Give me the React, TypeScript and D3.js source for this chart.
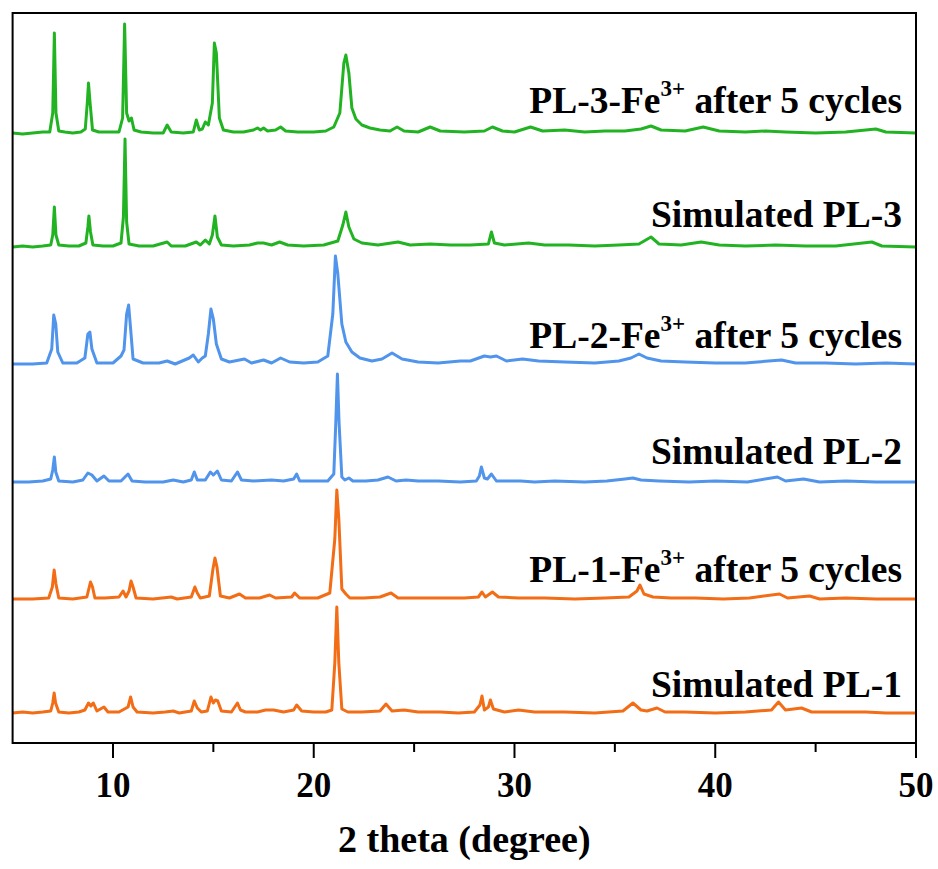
import React from "react";
import * as d3 from "d3";

// 2θ / intensity vertices (intensity in plot px above each trace's baseline)
const pl3Fe: [number, number][] = [
  [5, 0], [5.5, -1], [6, 0], [6.5, 1], [6.85, 1], [7.0, 20], [7.08, 100], [7.16, 20], [7.3, 2], [7.6, 1], [8.0, 0],
  [8.4, 1], [8.62, 4], [8.72, 30], [8.78, 50], [8.86, 30], [8.98, 3], [9.3, 1], [9.8, 1], [10.3, 1], [10.48, 15],
  [10.58, 109], [10.68, 20], [10.8, 12], [10.92, 15], [11.05, 3], [11.4, 1], [12, 0], [12.5, 0], [12.7, 8], [12.9, 1],
  [13.5, 0], [14.0, 1], [14.15, 13], [14.3, 3], [14.45, 4], [14.6, 11], [14.75, 8], [14.95, 30], [15.05, 90],
  [15.15, 80], [15.3, 15], [15.5, 3], [16, 1], [16.5, 1], [17.0, 3], [17.2, 5], [17.35, 3], [17.5, 5], [17.7, 2],
  [18.1, 3], [18.35, 6], [18.6, 2], [19.2, 1], [20, 1], [20.6, 2], [21.0, 6], [21.3, 20], [21.5, 70], [21.6, 78],
  [21.75, 60], [21.9, 25], [22.1, 14], [22.4, 8], [22.8, 5], [23.3, 3], [23.8, 2], [24.15, 6], [24.5, 2], [25.2, 1],
  [25.8, 6], [26.3, 2], [27.5, 1], [28.5, 2], [28.9, 6], [29.4, 2], [30.0, 1], [30.8, 6], [31.4, 2], [32.5, 3],
  [33.5, 1], [34.5, 2], [35.5, 2], [36.3, 4], [36.8, 7], [37.3, 3], [38.5, 2], [39.4, 6], [40.2, 2], [41.5, 1],
  [42.5, 2], [43.5, 1], [45, 0], [46.5, 1], [48.0, 4], [48.5, 1], [50, 0],
];

const simPl3: [number, number][] = [
  [5, 0], [5.5, 1], [6, 0], [6.5, 1], [6.9, 2], [7.0, 12], [7.08, 40], [7.16, 12], [7.3, 2], [7.8, 1], [8.3, 1],
  [8.65, 4], [8.75, 20], [8.8, 31], [8.88, 15], [9.0, 2], [9.5, 1], [10, 1], [10.4, 4], [10.52, 30], [10.6, 108],
  [10.68, 25], [10.8, 3], [11.3, 1], [12, 1], [12.7, 5], [12.9, 1], [13.6, 1], [14.15, 5], [14.35, 2], [14.6, 7],
  [14.8, 3], [14.95, 12], [15.08, 31], [15.2, 10], [15.4, 2], [16, 1], [16.8, 2], [17.2, 4], [17.5, 4], [17.9, 2],
  [18.3, 5], [18.7, 2], [19.5, 1], [20.5, 2], [21.2, 6], [21.45, 22], [21.6, 35], [21.75, 20], [22.0, 8], [22.4, 4],
  [23.2, 2], [24.2, 5], [24.8, 2], [25.8, 3], [26.8, 2], [27.8, 2], [28.7, 3], [28.85, 15], [29.0, 4], [29.5, 2],
  [30.7, 4], [31.5, 2], [32.7, 2], [34, 1], [35.2, 2], [36.2, 3], [36.8, 10], [37.2, 3], [38.3, 2], [39.3, 5],
  [40.2, 2], [41.5, 1], [43, 2], [44.5, 1], [46, 1], [47.8, 5], [48.3, 1], [50, 0],
];

const pl2Fe: [number, number][] = [
  [5, 0], [6, 0], [6.7, 1], [6.95, 15], [7.05, 49], [7.15, 40], [7.25, 12], [7.5, 1], [8.2, 1], [8.6, 6], [8.75, 30],
  [8.85, 32], [8.95, 15], [9.2, 1], [10, 1], [10.4, 8], [10.55, 14], [10.68, 50], [10.78, 59], [10.88, 35], [11.0, 5],
  [11.5, 1], [12.3, 1], [12.7, 3], [13.1, 0], [13.8, 6], [14.0, 9], [14.25, 2], [14.45, 6], [14.6, 8], [14.75, 30],
  [14.88, 55], [15.0, 45], [15.15, 20], [15.4, 5], [15.8, 2], [16.55, 5], [16.9, 1], [17.5, 4], [17.9, 1], [18.35, 6],
  [18.8, 2], [19.5, 1], [20.2, 2], [20.7, 8], [20.95, 50], [21.08, 108], [21.2, 90], [21.4, 40], [21.6, 22],
  [21.9, 12], [22.3, 6], [22.9, 3], [23.4, 5], [23.9, 11], [24.4, 5], [25.2, 2], [26.2, 1], [27.3, 3], [27.8, 3],
  [28.5, 8], [28.8, 7], [29.1, 8], [29.6, 3], [30.4, 5], [31.2, 3], [32.5, 2], [34, 1], [35.2, 3], [35.8, 6],
  [36.2, 10], [36.6, 6], [37.3, 3], [38.5, 2], [40, 1], [41.5, 1], [43.3, 4], [44, 1], [45.5, 1], [47, 0],
  [48.5, 1], [50, 0],
];

const simPl2: [number, number][] = [
  [5, 0], [5.8, 0], [6.5, 1], [6.9, 3], [7.0, 12], [7.08, 25], [7.15, 10], [7.3, 1], [8, 0], [8.5, 2], [8.75, 9],
  [8.95, 7], [9.2, 1], [9.55, 6], [9.8, 1], [10.4, 1], [10.75, 8], [10.95, 1], [11.6, 0], [12.5, 0], [13.0, 2],
  [13.5, 0], [13.9, 2], [14.05, 10], [14.2, 2], [14.6, 2], [14.85, 10], [15.0, 7], [15.2, 11], [15.4, 2], [15.9, 1],
  [16.2, 10], [16.4, 2], [17, 1], [17.9, 2], [18.5, 1], [19.0, 3], [19.15, 8], [19.3, 1], [20.0, 1], [20.7, 1],
  [21.0, 8], [21.1, 60], [21.18, 108], [21.26, 60], [21.4, 5], [21.55, 2], [21.75, 4], [21.95, 1], [22.6, 1],
  [23.2, 2], [23.7, 5], [24.1, 1], [24.6, 2], [25.2, 1], [26.2, 1], [27.3, 0], [28.1, 1], [28.25, 6], [28.35, 15],
  [28.5, 4], [28.65, 3], [28.85, 8], [29.1, 1], [30.3, 1], [31, 0], [32, 1], [33.5, 0], [34.6, 1], [35.5, 3],
  [35.9, 4], [36.3, 2], [37.2, 1], [38.7, 0], [40, 1], [41.6, 0], [43.1, 5], [43.5, 1], [44.4, 3], [45.2, 0],
  [46.5, 1], [48, 0], [50, 0],
];

const pl1Fe: [number, number][] = [
  [5, 0], [6, 0], [6.8, 1], [6.98, 12], [7.07, 29], [7.16, 15], [7.3, 1], [8, 0], [8.7, 2], [8.88, 17], [8.98, 12],
  [9.1, 1], [9.6, 1], [10.3, 2], [10.5, 8], [10.65, 2], [10.8, 8], [10.9, 18], [11.0, 12], [11.15, 1], [12, 0],
  [12.9, 2], [13.2, 0], [13.9, 2], [14.08, 12], [14.2, 6], [14.35, 1], [14.8, 3], [14.98, 30], [15.08, 41],
  [15.18, 32], [15.35, 3], [15.8, 1], [16.3, 5], [16.6, 1], [17.3, 1], [17.8, 4], [18.1, 1], [18.9, 2], [19.05, 6],
  [19.3, 1], [20.2, 1], [20.8, 6], [21.05, 60], [21.15, 109], [21.25, 80], [21.4, 10], [21.6, 5], [21.8, 1],
  [22.5, 1], [23.3, 2], [23.85, 6], [24.2, 1], [25.5, 1], [26.5, 1], [27.5, 1], [28.2, 2], [28.38, 7], [28.55, 2],
  [28.9, 7], [29.2, 2], [30.2, 1], [31.5, 1], [33, 0], [34.5, 1], [35.7, 2], [36.1, 8], [36.25, 14], [36.45, 5],
  [36.9, 2], [37.8, 1], [39, 1], [40.4, 0], [41.7, 1], [43.2, 5], [43.6, 1], [44.7, 3], [45.2, 0], [46.5, 1],
  [48, 0], [50, 0],
];

const simPl1: [number, number][] = [
  [5, 0], [5.5, 1], [6, 0], [6.5, 1], [6.9, 2], [7.0, 10], [7.07, 20], [7.14, 10], [7.3, 1], [7.8, 0], [8.3, 1],
  [8.6, 3], [8.78, 10], [8.9, 7], [9.02, 10], [9.2, 2], [9.55, 6], [9.75, 1], [10.3, 1], [10.75, 6], [10.88, 16],
  [11.0, 6], [11.2, 1], [12, 0], [12.6, 1], [13.0, 2], [13.3, 0], [13.9, 2], [14.05, 12], [14.2, 5], [14.4, 1],
  [14.7, 2], [14.88, 16], [15.0, 10], [15.1, 13], [15.22, 12], [15.4, 2], [15.9, 1], [16.2, 10], [16.35, 3],
  [16.6, 1], [17.2, 1], [17.6, 3], [18.0, 3], [18.5, 1], [19.0, 3], [19.15, 8], [19.4, 2], [20, 1], [20.6, 1],
  [20.9, 3], [21.05, 50], [21.15, 106], [21.25, 50], [21.4, 4], [21.7, 1], [22.4, 1], [23.3, 2], [23.6, 9],
  [23.9, 2], [24.5, 3], [25.2, 1], [26.3, 1], [27.2, 0], [28, 1], [28.28, 8], [28.38, 17], [28.5, 3], [28.7, 6],
  [28.8, 13], [28.95, 4], [29.5, 1], [30.2, 3], [31, 1], [32.5, 1], [34, 0], [35.4, 2], [35.9, 10], [36.3, 3],
  [36.6, 2], [37.1, 5], [37.5, 1], [38.5, 1], [40, 0], [41.5, 1], [42.8, 3], [43.15, 11], [43.5, 3], [44.3, 5],
  [44.8, 1], [46, 1], [47.5, 1], [48.5, 0], [50, 0],
];

const traces = [pl3Fe, simPl3, pl2Fe, simPl2, pl1Fe, simPl1];
const offsets = [610, 496, 379, 261, 144, 30];
const colors = ["#22b322", "#22b322", "#5094ec", "#5094ec", "#f26d15", "#f26d15"];
const labelMain = ["PL-3-Fe", "Simulated PL-3", "PL-2-Fe", "Simulated PL-2", "PL-1-Fe", "Simulated PL-1"];
const labelSup = ["3+", "", "3+", "", "3+", ""];
const labelTail = [" after 5 cycles", "", " after 5 cycles", "", " after 5 cycles", ""];
const labelOffsetAbove = [20, 20, 16, 18, 17, 16];
const majorTicks = [10, 20, 30, 40, 50];
const minorTicks = [15, 25, 35, 45];
const xTitle = "2 theta (degree)";

const W = 938;
const H = 869;
const left = 12.6;
const right = 916;
const top = 13;
const bottom = 743;

export default function App() {
  const x = d3.scaleLinear().domain([5, 50]).range([left, right]);
  const y = d3.scaleLinear().domain([0, 730]).range([bottom, top]);
  const font = "'Liberation Serif', 'Times New Roman', serif";

  return (
    <svg width={W} height={H} style={{ position: "absolute", left: 0, top: 0, background: "#fff" }}>
      <rect x={0} y={0} width={W} height={H} fill="#fff" />
      <defs>
        <clipPath id="plot">
          <rect x={left} y={top} width={right - left} height={bottom - top} />
        </clipPath>
      </defs>
      <g clipPath="url(#plot)">
        {traces.map((t, i) => {
          const line = d3
            .line<[number, number]>()
            .x((d) => x(d[0]))
            .y((d) => y(d[1] + offsets[i]));
          return (
            <path key={i} d={line(t) || ""} fill="none" stroke={colors[i]} strokeWidth={3} strokeLinejoin="round" />
          );
        })}
      </g>
      {labelMain.map((m, i) => (
        <text
          key={m + i}
          x={902}
          y={y(offsets[i]) - labelOffsetAbove[i]}
          textAnchor="end"
          fontFamily={font}
          fontWeight="bold"
          fontSize={37.5}
          fill="#000"
        >
          {m}
          {labelSup[i] && (
            <tspan fontSize={23} dy={-17}>
              {labelSup[i]}
            </tspan>
          )}
          {labelTail[i] && <tspan dy={labelSup[i] ? 17 : 0}>{labelTail[i]}</tspan>}
        </text>
      ))}
      <rect x={left} y={top} width={right - left} height={bottom - top} fill="none" stroke="#000" strokeWidth={2} />
      {majorTicks.map((t) => (
        <g key={t}>
          <line x1={x(t)} x2={x(t)} y1={bottom} y2={bottom + 15} stroke="#000" strokeWidth={2} />
          <text x={x(t)} y={797} textAnchor="middle" fontFamily={font} fontWeight="bold" fontSize={35} fill="#000">
            {t}
          </text>
        </g>
      ))}
      {minorTicks.map((t) => (
        <line key={t} x1={x(t)} x2={x(t)} y1={bottom} y2={bottom + 9} stroke="#000" strokeWidth={2} />
      ))}
      <text x={(left + right) / 2} y={852} textAnchor="middle" fontFamily={font} fontWeight="bold" fontSize={38} fill="#000">
        {xTitle}
      </text>
    </svg>
  );
}
